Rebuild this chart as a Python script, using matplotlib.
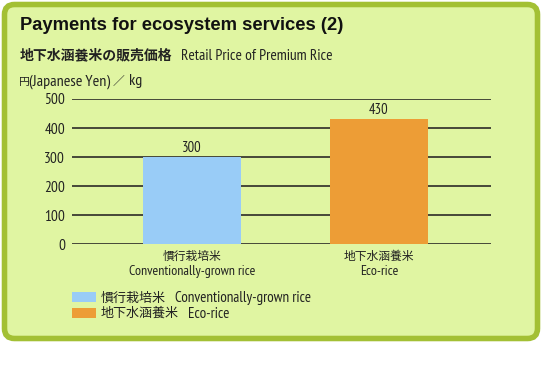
import matplotlib
matplotlib.use("Agg")
import matplotlib.pyplot as plt
from matplotlib.patches import FancyBboxPatch

categories_jp = ["慣行栽培米", "地下水涵養米"]
categories_en = ["Conventionally-grown rice", "Eco-rice"]
values = [300, 430]
yticks = [0, 100, 200, 300, 400, 500]
colors = ["#99ccf7", "#ed9d36"]

NARROW = ["PT Sans Narrow", "Noto Sans CJK JP", "DejaVu Sans"]
JP = ["Noto Sans CJK JP", "DejaVu Sans"]
PT = 0.72  # points per pixel at dpi 100

W, H = 542, 370
fig = plt.figure(figsize=(W / 100, H / 100), dpi=100)
fig.patch.set_facecolor("white")

# background panel in pixel coords
bg = fig.add_axes([0, 0, 1, 1], zorder=0)
bg.set_xlim(0, W)
bg.set_ylim(H, 0)
bg.axis("off")
panel = FancyBboxPatch((4.5, 4.5), 533, 334,
                       boxstyle="round,pad=0,rounding_size=10",
                       facecolor="#e0f5a2", edgecolor="#a3c034", linewidth=4.0)
bg.add_patch(panel)

bg.text(20, 25, "Payments for ecosystem services (2)", fontsize=13.2,
        family=["Liberation Sans", "DejaVu Sans"], weight="bold",
        va="center", ha="left", color="#111")
bg.text(20, 55, "地下水涵養米の販売価格", fontsize=10, family=JP, weight="bold",
        va="center", ha="left", color="#222")
bg.text(181, 55.5, "Retail Price of Premium Rice", fontsize=11.2, family=NARROW,
        va="center", ha="left", color="#222")
# unit label pieces
bg.text(19.5, 81.5, "円", fontsize=7.8, family=JP, va="center", ha="left", color="#222")
bg.text(29, 81.5, "(Japanese Yen)", fontsize=11.5, family=NARROW, va="center", ha="left", color="#222")
bg.text(112.5, 81.5, "／", fontsize=8.5, family=JP, va="center", ha="left", color="#222")
bg.text(129, 81.5, "kg", fontsize=11.5, family=NARROW, va="center", ha="left", color="#222")

# main axes
left, right = 72 / W, 491 / W
bottom, top = 1 - 244.3 / H, 1 - 99 / H
ax = fig.add_axes([left, bottom, right - left, top - bottom], zorder=1)
ax.set_facecolor("none")
x = [0, 1]
bars = ax.bar(x, values, width=0.524, color=colors, zorder=3)
ax.set_xlim(-0.642, 1.599)
ax.set_ylim(0, 500)
ax.set_yticks(yticks)
ax.set_yticklabels([str(v) for v in yticks], family=NARROW, fontsize=11, color="#222")
for v in yticks:
    ax.axhline(v, color="#3a3a30", linewidth=1.3, zorder=1)
for s in ax.spines.values():
    s.set_visible(False)
ax.tick_params(axis="y", length=0, pad=5)
ax.set_xticks([])

for xi, v in zip(x, values):
    ax.annotate(str(v), (xi, v), xytext=(0, 5.5 * PT), textcoords="offset points",
                ha="center", va="baseline", fontsize=10.5, family=NARROW, color="#222")
    ax.annotate(categories_jp[xi], (xi, 0), xytext=(0, -12 * PT), textcoords="offset points",
                ha="center", va="center", fontsize=8.5, family=JP, color="#222",
                annotation_clip=False)
    ax.annotate(categories_en[xi], (xi, 0), xytext=(0, -27.5 * PT), textcoords="offset points",
                ha="center", va="center", fontsize=10, family=NARROW, color="#222",
                annotation_clip=False)

leg = fig.legend(bars.patches, categories_jp, loc="upper left",
                 bbox_to_anchor=(71 / W, 1 - 290.5 / H), frameon=False,
                 prop={"family": JP, "size": 9.4},
                 handlelength=1.85, handleheight=0.82, handletextpad=0.33,
                 labelspacing=0.18, borderpad=0.1, borderaxespad=0)
for t in leg.get_texts():
    t.set_color("#222")

# English part of each legend entry, placed after the Japanese label
fig.canvas.draw()
for t, en in zip(leg.get_texts(), categories_en):
    bb = t.get_window_extent()
    yc = H - (bb.y0 + bb.y1) / 2
    bg.text(bb.x1 + 9, yc, en, fontsize=10.8, family=NARROW,
            va="center", ha="left", color="#222")

fig.savefig("out.png", dpi=100)
